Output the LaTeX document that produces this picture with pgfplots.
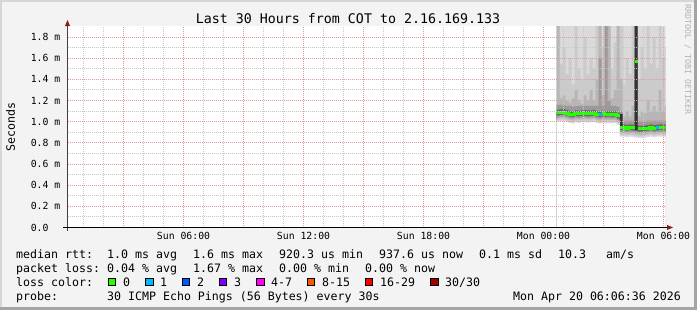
\documentclass[border=0pt]{standalone}
\usepackage{fontspec}
\setmainfont{DejaVu Sans Mono}
\setmonofont{DejaVu Sans Mono}
\usepackage{pgfplots}
\pgfplotsset{compat=1.18}
\usepackage{pgfplotstable}

\definecolor{bg}{HTML}{F3F3F3}
\definecolor{shA}{HTML}{D6D6D6}
\definecolor{shB}{HTML}{A4A4A4}
\definecolor{smA}{HTML}{DADADA}
\definecolor{smB}{HTML}{CBCBCB}
\definecolor{smC}{HTML}{B6B6B6}
\definecolor{smD}{HTML}{9A9A9A}
\definecolor{smE}{HTML}{6A6A6A}
\definecolor{smF}{HTML}{333333}
\definecolor{mgrid}{HTML}{E89A9A}
\definecolor{ngrid}{HTML}{C8C8C8}
\definecolor{arr}{HTML}{8B1A1A}
\definecolor{l0}{HTML}{26FF00}
\definecolor{l1}{HTML}{00B8FF}
\definecolor{l2}{HTML}{0059FF}
\definecolor{l3}{HTML}{7E00FF}
\definecolor{l4}{HTML}{FF00FF}
\definecolor{l8}{HTML}{FF5500}
\definecolor{l16}{HTML}{FF0000}
\definecolor{l30}{HTML}{A10000}

\newcommand\lfont{\fontsize{11.6bp}{12bp}\selectfont}
\newcommand\tfont{\fontsize{9.8bp}{10bp}\selectfont}
\newcommand\hfont{\fontsize{13.3bp}{14bp}\selectfont}
\newcommand\wfont{\fontsize{8.3bp}{9bp}\selectfont}

\pgfplotstableread{
h m b u2 u3 u4 u6
24.65 1.085 1.085 2.00 2.00 1.16 0
24.80 1.090 1.090 1.55 1.22 1.16 0
24.95 1.088 1.088 1.70 1.25 1.16 0
25.10 1.080 1.080 1.45 1.20 1.15 0
25.25 1.072 1.072 1.60 1.18 1.15 0
25.40 1.068 1.068 1.35 1.22 1.14 0
25.55 1.078 1.078 2.00 1.30 1.15 0
25.70 1.075 1.075 1.50 1.20 1.15 0
25.85 1.078 1.078 1.40 1.17 1.15 0
26.00 1.080 1.080 1.80 1.25 1.15 0
26.15 1.076 1.076 1.45 1.20 1.15 0
26.30 1.078 1.078 1.60 1.30 1.15 0
26.45 1.082 1.082 1.50 1.20 1.15 0
26.60 1.072 1.072 2.00 1.40 1.15 0
26.75 1.066 1.066 2.00 2.00 1.60 0
26.90 1.075 1.075 1.70 1.25 1.15 0
27.05 1.070 1.070 2.00 2.00 2.00 0
27.20 1.072 1.072 2.00 2.00 1.20 0
27.35 1.070 1.070 1.50 1.22 1.15 0
27.50 1.072 1.072 1.75 1.30 1.15 0
27.65 1.055 1.055 1.60 2.00 1.14 0
27.80 0.945 0.945 2.00 1.40 1.10 1.075
27.95 0.945 0.945 1.35 1.05 1.01 0
28.10 0.940 0.940 1.60 1.10 1.01 0
28.25 0.945 0.945 1.45 1.05 1.01 0
28.40 0.942 0.942 2.00 1.15 1.01 0
28.55 1.567 0.935 2.00 2.00 2.00 2.00
28.70 0.932 0.932 1.40 1.05 1.00 0
28.85 0.932 0.932 1.70 1.10 1.00 0
29.00 0.935 0.935 1.50 1.08 1.00 0
29.15 0.940 0.940 2.00 1.20 1.01 0
29.30 0.945 0.945 1.55 1.10 1.01 0
29.45 0.938 0.938 1.80 1.15 1.01 0
29.60 0.943 0.943 1.50 1.10 1.01 0
29.75 0.945 0.945 2.00 1.30 1.01 0
29.90 0.945 0.945 1.60 1.10 1.01 0
30.05 0.945 0.945 1.70 1.15 1.01 0
30.10 0.945 0.945 1.70 1.15 1.01 0
}\smoke

\begin{document}
\begin{tikzpicture}[x=1bp,y=1bp]
\useasboundingbox (0,0) rectangle (697,310);
\fill[bg] (0,0) rectangle (697,310);
\fill[shA] (0,0) rectangle (2,310);
\fill[shA] (0,308) rectangle (697,310);
\fill[shB] (694,0) rectangle (697,310);
\fill[shB] (0,0) rectangle (697,3);

\begin{axis}[
  name=ax, at={(67.5bp,82.5bp)}, anchor=south west,
  scale only axis, width=598bp, height=201bp,
  xmin=0.2, xmax=30.1, ymin=0, ymax=1.9,
  axis on top, axis background/.style={fill=white},
  axis line style={draw=none},
  xtick={6,12,18,24,30},
  xticklabels={Sun 06:00, Sun 12:00, Sun 18:00, Mon 00:00, Mon 06:00},
  extra x ticks={3,9,15,21,27}, extra x tick labels={},
  extra x tick style={grid=major},
  minor xtick={1,2,4,5,7,8,10,11,13,14,16,17,19,20,22,23,25,26,28,29},
  ytick={0,0.2,0.4,0.6,0.8,1.0,1.2,1.4,1.6,1.8},
  yticklabels={0.0\hphantom{0m},0.2 m,0.4 m,0.6 m,0.8 m,1.0 m,1.2 m,1.4 m,1.6 m,1.8 m},
  minor ytick={0.1,0.3,0.5,0.7,0.9,1.1,1.3,1.5,1.7},
  grid=both,
  major grid style={color=mgrid, line width=1bp, dash pattern=on 1bp off 1bp},
  minor grid style={color=ngrid, line width=1bp, dash pattern=on 1bp off 1bp},
  major tick length=0pt, minor tick length=0pt,
  tick label style={font=\tfont, text=black},
  xticklabel style={inner sep=0pt, anchor=north, yshift=-5bp},
  yticklabel style={inner sep=0pt, anchor=east, xshift=-7bp},
]
\addplot[const plot, draw=none, fill=smA] table[x=h, y expr=2.0] {\smoke} \closedcycle;
\addplot[const plot, draw=none, fill=smB] table[x=h, y=u2] {\smoke} \closedcycle;
\addplot[const plot, draw=none, fill=smC] table[x=h, y=u3] {\smoke} \closedcycle;
\addplot[const plot, draw=none, fill=smD] table[x=h, y=u4] {\smoke} \closedcycle;
\addplot[const plot, draw=none, fill=smE] table[x=h, y expr=\thisrow{m}+0.03] {\smoke} \closedcycle;
\addplot[const plot, draw=none, fill=smF] table[x=h, y=u6] {\smoke} \closedcycle;
\addplot[const plot, draw=none, fill=smE] table[x=h, y expr=\thisrow{b}-0.012] {\smoke} \closedcycle;
\addplot[const plot, draw=none, fill=smD] table[x=h, y expr=\thisrow{b}-0.025] {\smoke} \closedcycle;
\addplot[const plot, draw=none, fill=smC] table[x=h, y expr=\thisrow{b}-0.04] {\smoke} \closedcycle;
\addplot[const plot, draw=none, fill=smB] table[x=h, y expr=\thisrow{b}-0.055] {\smoke} \closedcycle;
\addplot[const plot, draw=none, fill=smA] table[x=h, y expr=\thisrow{b}-0.07] {\smoke} \closedcycle;
\addplot[const plot, draw=none, fill=white] table[x=h, y expr=\thisrow{b}-0.085] {\smoke} \closedcycle;
% median
\addplot[const plot, color=l0, line width=3bp] coordinates {(24.65,1.085) (24.80,1.090) (24.95,1.088) (25.10,1.080) (25.25,1.072) (25.40,1.068) (25.55,1.078) (25.70,1.075) (25.85,1.078) (26.00,1.080) (26.15,1.076) (26.30,1.078) (26.45,1.082) (26.60,1.072) (26.75,1.072)};
\addplot[const plot, color=l1, line width=3bp] coordinates {(26.75,1.066) (26.90,1.066)};
\addplot[const plot, color=l0, line width=3bp] coordinates {(26.90,1.075) (27.05,1.070) (27.20,1.072) (27.35,1.070) (27.50,1.072) (27.65,1.055) (27.80,1.055)};
\addplot[const plot, color=l0, line width=3bp] coordinates {(27.80,0.945) (27.95,0.945) (28.10,0.940) (28.25,0.945) (28.40,0.942) (28.55,0.942)};
\addplot[const plot, color=l0, line width=3bp] coordinates {(28.55,1.567) (28.70,1.567)};
\addplot[const plot, color=l0, line width=3bp] coordinates {(28.70,0.932) (28.85,0.932) (29.00,0.935) (29.15,0.940) (29.30,0.945) (29.45,0.938) (29.60,0.938)};
\addplot[const plot, color=l1, line width=3bp] coordinates {(29.60,0.943) (29.75,0.943)};
\addplot[const plot, color=l0, line width=3bp] coordinates {(29.75,0.945) (29.90,0.945) (30.05,0.945) (30.10,0.945)};
\end{axis}

% axis lines and arrows
\draw[black!75, line width=1bp] (67.5,79) -- (67.5,287);
\draw[black, line width=1bp] (63,82.5) -- (668,82.5);
\fill[arr] (67.5,290) -- (65,284) -- (70,284) -- cycle;
\fill[arr] (673,82.5) -- (667,85) -- (667,80) -- cycle;

% title and labels
\node[anchor=base, inner sep=0pt, font=\hfont] at (348,286.7) {Last 30 Hours from COT to 2.16.169.133};
\node[rotate=90, anchor=center, inner sep=0pt, font=\lfont] at (10.5,183) {Seconds};
\node[rotate=-90, anchor=base west, inner sep=0pt, font=\wfont, text=black!30] at (685,306) {RRDTOOL / TOBI OETIKER};

% legend
\begin{scope}[every node/.style={anchor=base west, inner sep=0pt, font=\lfont}]
\node at (16,52) {median rtt:};
\node at (107,52) {1.0 ms avg};
\node at (193,52) {1.6 ms max};
\node at (279,52) {920.3 us min};
\node at (379,52) {937.6 us now};
\node at (479,52) {0.1 ms sd};
\node at (558,52) {10.3};
\node at (606,52) {am/s};
\node at (16,38) {packet loss:};
\node at (107,38) {0.04 \% avg};
\node at (193,38) {1.67 \% max};
\node at (279,38) {0.00 \% min};
\node at (365,38) {0.00 \% now};
\node at (16,24) {loss color:};
\node at (123,24) {0};
\node at (160,24) {1};
\node at (197,24) {2};
\node at (234,24) {3};
\node at (271,24) {4-7};
\node at (322,24) {8-15};
\node at (380,24) {16-29};
\node at (445,24) {30/30};
\node at (16,10) {probe:};
\node at (107,10) {30 ICMP Echo Pings (56 Bytes) every 30s};
\node[anchor=base east] at (681,10) {Mon Apr 20 06:06:36 2026};
\end{scope}
\foreach \xx/\cc in {108/l0,145.7/l1,182.3/l2,219.3/l3,256.7/l4,307.3/l8,365.3/l16,430.7/l30}{
  \filldraw[fill=\cc, draw=black, line width=1bp] (\xx,24.3) rectangle ++(7.5,7.5);
}
\end{tikzpicture}
\end{document}
